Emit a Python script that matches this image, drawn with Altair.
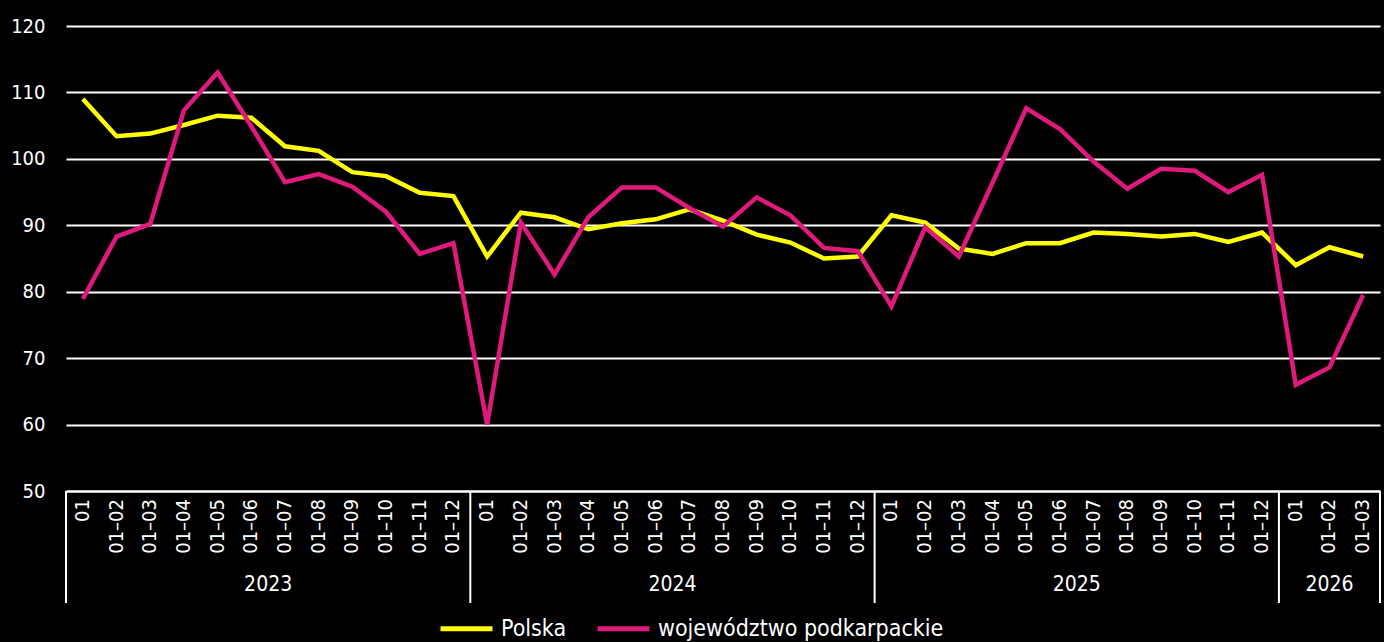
import altair as alt
import pandas as pd

FONT = "DejaVu Sans Condensed"

years = ["2023", "2024", "2025", "2026"]
months_per_year = [12, 12, 12, 3]
period_full = ["01", "01–02", "01–03", "01–04", "01–05", "01–06",
               "01–07", "01–08", "01–09", "01–10", "01–11", "01–12"]

polska = [109.0, 103.4, 103.8, 105.1, 106.5, 106.2, 101.9, 101.2, 98.0, 97.4, 94.9, 94.4,
          85.3, 91.9, 91.2, 89.4, 90.3, 90.9, 92.4, 90.7, 88.6, 87.4, 85.0, 85.3,
          91.5, 90.4, 86.5, 85.7, 87.3, 87.3, 88.9, 88.7, 88.3, 88.7, 87.5, 88.9,
          84.0, 86.7, 85.3]
podkarpackie = [78.9, 88.3, 90.2, 107.3, 113.0, 104.9, 96.5, 97.7, 95.8, 92.0, 85.7, 87.3,
                60.0, 90.4, 82.6, 91.2, 95.7, 95.7, 92.6, 89.8, 94.2, 91.5, 86.6, 86.1,
                77.8, 89.7, 85.3, 96.4, 107.6, 104.5, 99.6, 95.5, 98.5, 98.2, 95.0, 97.6,
                66.0, 68.6, 79.5]

series_names = ["Polska", "województwo podkarpackie"]
series_colors = ["#FFFF00", "#E0197D"]

period_labels = []
for n in months_per_year:
    period_labels += period_full[:n]
n_points = len(period_labels)

rows = []
for i in range(n_points):
    rows.append({"i": i, "seria": series_names[0], "v": polska[i]})
    rows.append({"i": i, "seria": series_names[1], "v": podkarpackie[i]})
df = pd.DataFrame(rows)

lab_df = pd.DataFrame({"i": list(range(n_points)), "lab": period_labels})

# year group boundaries and centres (in index units)
bounds = [-0.5]
centres = []
start = 0
for n in months_per_year:
    centres.append(start + (n - 1) / 2)
    start += n
    bounds.append(start - 0.5)
sep_df = pd.DataFrame({"b": bounds})
year_df = pd.DataFrame({"c": centres, "year": years})

W, H = 1314, 465

xscale = alt.Scale(domain=[-0.5, n_points - 0.5], nice=False, zero=False)

lines = alt.Chart(df).mark_line(strokeWidth=4.5, clip=False).encode(
    x=alt.X("i:Q", scale=xscale,
            axis=alt.Axis(labels=False, ticks=False, grid=False,
                          domainColor="white", domainWidth=2, title=None)),
    y=alt.Y("v:Q", scale=alt.Scale(domain=[50, 120], nice=False, zero=False),
            axis=alt.Axis(values=list(range(50, 121, 10)), labelFontSize=20,
                          labelColor="white", labelFont=FONT, labelPadding=21,
                          ticks=False, domain=False, gridColor="white",
                          gridWidth=2, gridOpacity=1, title=None)),
    color=alt.Color("seria:N",
                    scale=alt.Scale(domain=series_names, range=series_colors),
                    legend=alt.Legend(title=None, orient="none", direction="horizontal",
                                      legendX=372, legendY=574,
                                      symbolType="stroke", symbolSize=2700,
                                      symbolStrokeWidth=5, labelFontSize=23,
                                      labelFont=FONT, labelColor="white",
                                      labelOffset=6, columnPadding=20,
                                      labelLimit=400)),
)

period_text = alt.Chart(lab_df).mark_text(
    color="white", font=FONT, fontSize=20, angle=270, align="right",
    baseline="middle"
).encode(
    x=alt.X("i:Q", scale=xscale),
    y=alt.value(H + 8),
    text="lab:N",
)

seps = alt.Chart(sep_df).mark_rule(color="white", strokeWidth=2).encode(
    x=alt.X("b:Q", scale=xscale),
    y=alt.value(H),
    y2=alt.value(H + 112),
)

year_text = alt.Chart(year_df).mark_text(
    color="white", font=FONT, fontSize=21, baseline="middle", align="center"
).encode(
    x=alt.X("c:Q", scale=xscale),
    y=alt.value(H + 94),
    text="year:N",
)

chart = alt.layer(lines, period_text, seps, year_text).properties(
    width=W, height=H,
    padding={"left": 66, "top": 26, "right": 4, "bottom": 151},
    autosize=alt.AutoSizeParams(type="none"),
    background="black",
).configure_view(stroke=None)

chart.save("out.html", embed_options={
    "renderer": "svg", "actions": False,
    "defaultStyle": "body{background:#000;margin:0;overflow:hidden;} svg{display:block;}"})
